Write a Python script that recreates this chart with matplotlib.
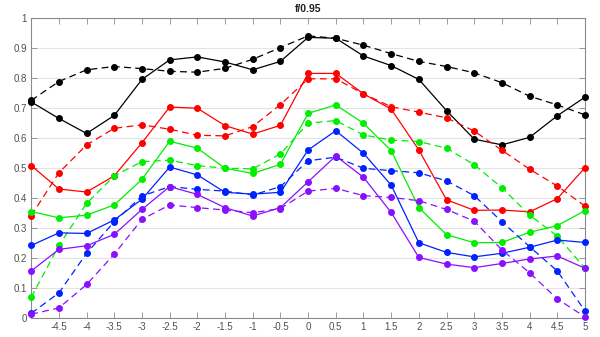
import numpy as np
import matplotlib
matplotlib.use("Agg")
import matplotlib.pyplot as plt

plt.rcParams['font.family'] = ['Liberation Sans', 'DejaVu Sans']

x = np.arange(-5, 5.01, 0.5)

black_solid = [0.720, 0.665, 0.615, 0.675, 0.795, 0.860, 0.870, 0.853, 0.827, 0.855, 0.935,
               0.932, 0.873, 0.841, 0.795, 0.691, 0.596, 0.577, 0.602, 0.674, 0.736]
black_dashed = [0.725, 0.788, 0.827, 0.838, 0.831, 0.822, 0.819, 0.832, 0.862, 0.901, 0.940,
                0.932, 0.909, 0.881, 0.855, 0.838, 0.817, 0.784, 0.739, 0.710, 0.677]
red_solid = [0.508, 0.430, 0.420, 0.474, 0.584, 0.703, 0.699, 0.641, 0.613, 0.642, 0.815,
             0.815, 0.747, 0.696, 0.560, 0.394, 0.359, 0.360, 0.354, 0.398, 0.501]
red_dashed = [0.341, 0.484, 0.577, 0.632, 0.644, 0.629, 0.609, 0.607, 0.638, 0.711, 0.797,
              0.797, 0.747, 0.704, 0.686, 0.667, 0.623, 0.559, 0.496, 0.440, 0.373]
green_solid = [0.355, 0.334, 0.343, 0.377, 0.462, 0.589, 0.566, 0.499, 0.482, 0.512, 0.682,
               0.710, 0.649, 0.558, 0.368, 0.278, 0.251, 0.252, 0.286, 0.308, 0.358]
green_dashed = [0.069, 0.242, 0.382, 0.474, 0.521, 0.526, 0.508, 0.499, 0.497, 0.547, 0.649,
                0.658, 0.610, 0.593, 0.588, 0.566, 0.511, 0.434, 0.343, 0.273, 0.166]
blue_solid = [0.242, 0.284, 0.282, 0.327, 0.396, 0.503, 0.477, 0.419, 0.413, 0.419, 0.560,
              0.624, 0.549, 0.443, 0.251, 0.219, 0.204, 0.216, 0.236, 0.260, 0.252]
blue_dashed = [0.016, 0.084, 0.216, 0.321, 0.407, 0.438, 0.429, 0.423, 0.410, 0.438, 0.524,
               0.536, 0.499, 0.491, 0.484, 0.457, 0.408, 0.321, 0.238, 0.157, 0.024]
purple_solid = [0.157, 0.229, 0.241, 0.279, 0.362, 0.438, 0.412, 0.368, 0.340, 0.368, 0.454,
                0.540, 0.469, 0.352, 0.202, 0.180, 0.168, 0.182, 0.197, 0.207, 0.166]
purple_dashed = [0.013, 0.034, 0.112, 0.213, 0.329, 0.377, 0.368, 0.360, 0.351, 0.365, 0.423,
                 0.432, 0.408, 0.402, 0.391, 0.362, 0.323, 0.227, 0.151, 0.064, 0.004]

xtick_vals = np.arange(-4.5, 5.01, 0.5)
ytick_vals = np.arange(0, 1.01, 0.1)

series = [
    (black_solid, '#000000', '-'),
    (black_dashed, '#000000', '--'),
    (red_solid, '#ff0000', '-'),
    (red_dashed, '#ff0000', '--'),
    (green_solid, '#00ee00', '-'),
    (green_dashed, '#00ee00', '--'),
    (blue_solid, '#0022ff', '-'),
    (blue_dashed, '#0022ff', '--'),
    (purple_solid, '#8a10ff', '-'),
    (purple_dashed, '#8a10ff', '--'),
]

fig = plt.figure(figsize=(6.0, 3.37), dpi=100)
ax = fig.add_axes([0.052, 0.056, 0.923, 0.891])

for vals, col, ls in series:
    ax.plot(x, vals, color=col, linestyle=ls, linewidth=0.9,
            marker='o', markersize=4.0, markeredgecolor=col, markerfacecolor=col,
            dashes=(5.5, 3.5) if ls == '--' else (None, None), clip_on=False, zorder=3)

ax.set_xlim(-5, 5)
ax.set_ylim(0, 1)
ax.set_xticks(xtick_vals)
ax.set_xticklabels([f"{v:g}" for v in xtick_vals])
ax.set_yticks(ytick_vals)
ax.set_yticklabels([f"{v:g}" for v in ytick_vals])

ax.yaxis.grid(True, color='#e4e4e4', linewidth=0.8, zorder=0)
ax.set_axisbelow(True)

axis_col = '#505050'
for sp in ax.spines.values():
    sp.set_color('#8a8a8a')
    sp.set_linewidth(0.8)
ax.tick_params(direction='in', top=True, right=True, length=4, width=0.6,
               colors='#8a8a8a', labelcolor=axis_col, labelsize=7, pad=3)

ax.set_title('f/0.95', fontsize=7.5, fontweight='bold', color='#222222', pad=4)

fig.savefig('out.png', dpi=100)
